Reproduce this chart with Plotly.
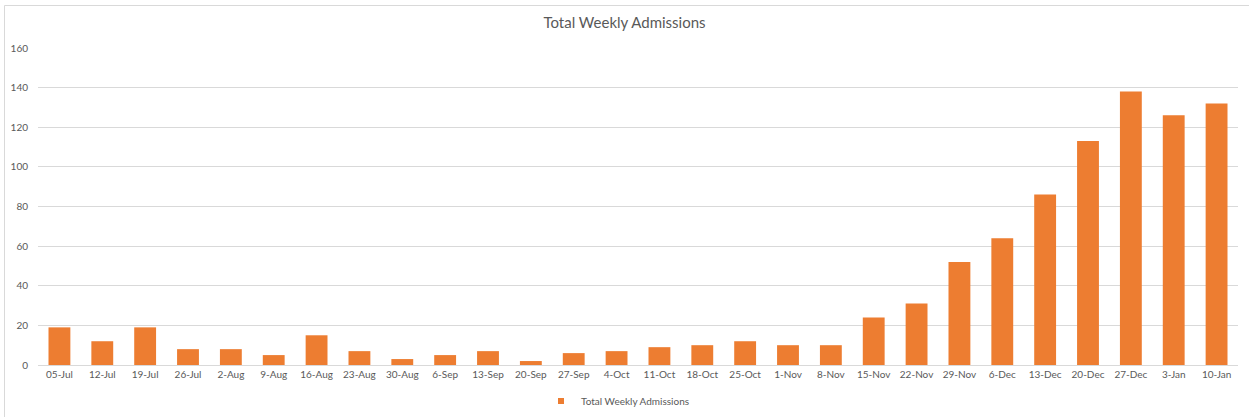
import plotly.graph_objects as go

weeks = ["05-Jul", "12-Jul", "19-Jul", "26-Jul", "2-Aug", "9-Aug", "16-Aug", "23-Aug",
         "30-Aug", "6-Sep", "13-Sep", "20-Sep", "27-Sep", "4-Oct", "11-Oct", "18-Oct",
         "25-Oct", "1-Nov", "8-Nov", "15-Nov", "22-Nov", "29-Nov", "6-Dec", "13-Dec",
         "20-Dec", "27-Dec", "3-Jan", "10-Jan"]
admissions = [19, 12, 19, 8, 8, 5, 15, 7, 3, 5, 7, 2, 6, 7, 9, 10, 12, 10, 10,
              24, 31, 52, 64, 86, 113, 138, 126, 132]
y_ticks = [0, 20, 40, 60, 80, 100, 120, 140, 160]
series_name = "Total Weekly Admissions"

W, H = 1249, 417
ml, mr, mt, mb = 38, 11, 48, 52
pw, ph = W - ml - mr, H - mt - mb

def px_x(p):
    return (p - ml) / pw

def px_y(p):
    return (H - mb - p) / ph

orange = "#ED7D31"
font = "Lato, Carlito, Calibri, sans-serif"
fig = go.Figure()
fig.add_trace(go.Bar(
    x=weeks, y=admissions, name=series_name,
    marker=dict(color=orange, line=dict(width=0)),
    showlegend=False,
))
# legend swatch (small square like the reference)
fig.add_trace(go.Scatter(
    x=[None], y=[None], mode="markers", name=series_name,
    marker=dict(symbol="square", size=6, color=orange),
    showlegend=True, hoverinfo="skip",
))
fig.update_layout(
    template="none",
    width=W, height=H,
    margin=dict(l=ml, r=mr, t=mt, b=mb, pad=0),
    paper_bgcolor="white", plot_bgcolor="white",
    bargap=0.49,
    font=dict(family=font, size=10, color="#595959"),
    title=dict(text=series_name, x=0.5, xanchor="center", xref="container",
               y=1 - 23 / H, yanchor="middle", yref="container",
               font=dict(family=font, size=15, color="#595959")),
    xaxis=dict(type="category", categoryorder="array", categoryarray=weeks,
               range=[-0.5, len(weeks) - 0.5],
               showgrid=False, showline=True, linecolor="#d9d9d9",
               linewidth=1, ticks="", automargin=False,
               tickfont=dict(size=10, color="#595959")),
    yaxis=dict(range=[0, 160], tickvals=y_ticks, showgrid=True, gridcolor="#d9d9d9",
               gridwidth=1, zeroline=False, showline=False, ticks="", automargin=False,
               tickfont=dict(size=10, color="#595959"), ticklabelstandoff=9),
    legend=dict(orientation="h", xref="container", yref="container",
                x=541 / W, xanchor="left", y=1 - 401 / H, yanchor="middle",
                font=dict(size=10, color="#595959"), itemwidth=30,
                bgcolor="rgba(0,0,0,0)"),
    shapes=[dict(type="rect", xref="paper", yref="paper",
                 x0=px_x(4.5), x1=px_x(1260), y0=px_y(430), y1=px_y(5.5),
                 line=dict(color="#d9d9d9", width=1), layer="below")],
)
fig.write_html("out.html", config={"displayModeBar": False},
               post_script="document.body.style.margin='0';document.body.style.padding='0';")
